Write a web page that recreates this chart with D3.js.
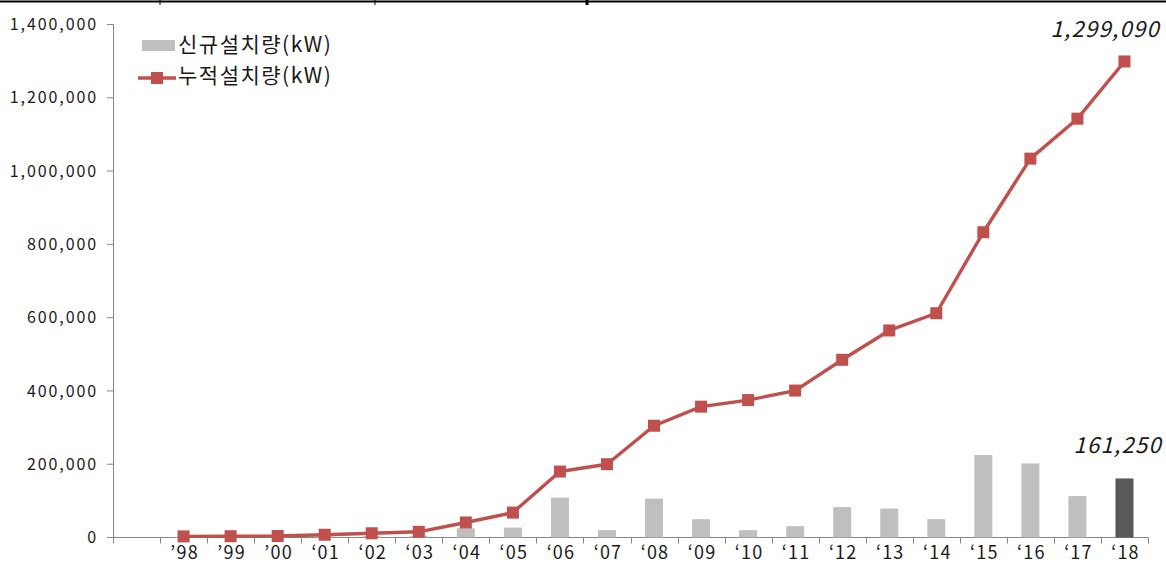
<!DOCTYPE html>
<html>
<head>
<meta charset="utf-8">
<script src="https://cdn.jsdelivr.net/npm/d3@7"></script>
<style>
  body { margin: 0; background: #fff; }
  svg { display: block; }
  text { font-family: "Noto Sans CJK KR", "Noto Sans", sans-serif; fill: #1a1a1a; }
</style>
</head>
<body>
<div id="chart"></div>
<script>
// 연도 (첫 칸은 비어 있음)
const years = ["", "’98", "’99", "’00", "‘01", "‘02", "‘03", "‘04", "‘05", "‘06", "‘07", "‘08", "‘09",
  "‘10", "‘11", "‘12", "‘13", "‘14", "‘15", "‘16", "‘17", "‘18"];
// 신규설치량(kW)
const newInstall = [null, 1500, 1500, 1500, 3000, 4000, 4000, 25000, 27000, 109000, 20000, 106000, 50000,
  20000, 31000, 83000, 79000, 50000, 225000, 202000, 113000, 161250];
// 누적설치량(kW)
const cumInstall = [null, 3000, 3500, 4000, 7500, 11500, 15500, 41000, 68000, 180000, 200000, 305000, 357000,
  375000, 401000, 485000, 565000, 612000, 833000, 1034000, 1143000, 1299090];
const yTicks = [0, 200000, 400000, 600000, 800000, 1000000, 1200000, 1400000];

const width = 1166, height = 569;
const svg = d3.select('#chart').append('svg')
  .attr('width', width).attr('height', height);

// 상단 테두리 (원본 이미지의 표 선)
svg.append('line').attr('x1', 0).attr('x2', width).attr('y1', 1.5).attr('y2', 1.5)
  .attr('stroke', '#000').attr('stroke-width', 2);
[160, 375, 587].forEach(function(x) {
  svg.append('line').attr('x1', x).attr('x2', x).attr('y1', 0).attr('y2', 5)
    .attr('stroke', '#000').attr('stroke-width', x === 587 ? 3 : 1);
});

const x = d3.scaleBand().domain(d3.range(years.length))
  .range([113, 1148]).paddingInner(0).paddingOuter(0);
const y = d3.scaleLinear().domain([0, 1400000]).range([537.5, 24.5]);

const axisColor = '#868686';

// y축
svg.append('line').attr('x1', 113.5).attr('x2', 113.5).attr('y1', y(1400000)).attr('y2', y(0))
  .attr('stroke', axisColor);
yTicks.forEach(function(t) {
  svg.append('line').attr('x1', 107).attr('x2', 113.5).attr('y1', y(t)).attr('y2', y(t))
    .attr('stroke', axisColor);
  svg.append('text').attr('x', 98).attr('y', y(t)).attr('dy', '0.35em')
    .attr('text-anchor', 'end').attr('font-size', 16).attr('letter-spacing', 1.9)
    .text(d3.format(',')(t));
});

// x축
svg.append('line').attr('x1', 113).attr('x2', 1148).attr('y1', y(0)).attr('y2', y(0))
  .attr('stroke', axisColor);
d3.range(years.length + 1).forEach(function(i) {
  const xx = Math.round(113 + i * x.bandwidth()) + 0.5;
  svg.append('line').attr('x1', xx).attr('x2', xx).attr('y1', y(0)).attr('y2', y(0) + 6)
    .attr('stroke', axisColor);
});
years.forEach(function(d, i) {
  svg.append('text').attr('x', x(i) + x.bandwidth() / 2 + 1).attr('y', 553).attr('dy', '0.35em')
    .attr('text-anchor', 'middle').attr('font-size', 18).attr('letter-spacing', 1.2).text(d);
});

// 막대
const barW = 18;
svg.selectAll('rect.bar').data(newInstall.map(function(v, i) { return { v: v, i: i }; })
    .filter(function(d) { return d.v != null; }))
  .enter().append('rect').attr('class', 'bar')
  .attr('x', function(d) { return x(d.i) + x.bandwidth() / 2 - barW / 2; })
  .attr('width', barW)
  .attr('y', function(d) { return y(d.v); })
  .attr('height', function(d) { return y(0) - y(d.v); })
  .attr('fill', function(d) { return d.i === years.length - 1 ? '#595959' : '#BFBFBF'; });

// 누적 선
const pts = cumInstall.map(function(v, i) { return { v: v, i: i }; })
  .filter(function(d) { return d.v != null; });
const line = d3.line()
  .x(function(d) { return x(d.i) + x.bandwidth() / 2; })
  .y(function(d) { return y(d.v); });
svg.append('path').datum(pts).attr('d', line)
  .attr('fill', 'none').attr('stroke', '#C0504D').attr('stroke-width', 3.4)
  .attr('stroke-linejoin', 'round');
svg.selectAll('rect.mk').data(pts).enter().append('rect').attr('class', 'mk')
  .attr('x', function(d) { return x(d.i) + x.bandwidth() / 2 - 6; })
  .attr('y', function(d) { return y(d.v) - 6; })
  .attr('width', 12).attr('height', 12)
  .attr('fill', '#C0504D');

// 값 라벨
const last = years.length - 1;
svg.append('text').attr('x', 1160).attr('y', y(cumInstall[last]) - 24)
  .attr('text-anchor', 'end').attr('font-size', 22).attr('font-style', 'italic')
  .attr('letter-spacing', 1.3)
  .text(d3.format(',')(cumInstall[last]));
svg.append('text').attr('x', 1162).attr('y', y(newInstall[last]) - 25)
  .attr('text-anchor', 'end').attr('font-size', 22).attr('font-style', 'italic')
  .attr('letter-spacing', 1.3)
  .text(d3.format(',')(newInstall[last]));

// 범례
svg.append('rect').attr('x', 142).attr('y', 40).attr('width', 33).attr('height', 11)
  .attr('fill', '#BFBFBF');
svg.append('text').attr('x', 178).attr('y', 45).attr('dy', '0.35em').attr('font-size', 21)
  .attr('letter-spacing', 1.5)
  .text('신규설치량(kW)');
svg.append('line').attr('x1', 138).attr('x2', 176).attr('y1', 78).attr('y2', 78)
  .attr('stroke', '#C0504D').attr('stroke-width', 3.4);
svg.append('rect').attr('x', 151).attr('y', 72).attr('width', 12).attr('height', 12)
  .attr('fill', '#C0504D');
svg.append('text').attr('x', 178).attr('y', 76).attr('dy', '0.35em').attr('font-size', 21)
  .attr('letter-spacing', 1.5)
  .text('누적설치량(kW)');
</script>
</body>
</html>
